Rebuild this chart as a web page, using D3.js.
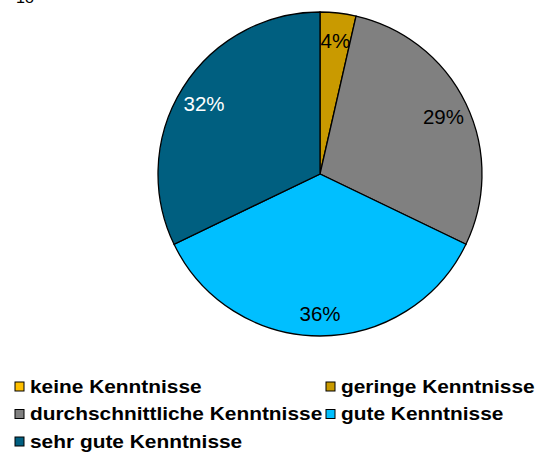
<!DOCTYPE html>
<html>
<head>
<meta charset="utf-8">
<script src="https://cdn.jsdelivr.net/npm/d3@7"></script>
<style>
  body { margin: 0; background: #fff; }
  svg { display: block; font-family: "Liberation Sans", Arial, sans-serif; }
</style>
</head>
<body>
<div id="chart-area"></div>
<script>
// data
const categories = ["keine Kenntnisse", "geringe Kenntnisse", "durchschnittliche Kenntnisse", "gute Kenntnisse", "sehr gute Kenntnisse"];
const counts = [0, 1, 8, 10, 9];
const colors = ["#FFC000", "#C99A00", "#808080", "#00BFFF", "#005F80"];
const labelColors = ["#000", "#000", "#000", "#000", "#fff"];

const width = 535, height = 455;
const cx = 320, cy = 174, radius = 162, labelRadius = 137;

let svg = d3.select("#chart-area").append("svg")
            .attr("width", width)
            .attr("height", height);

// cut-off heading at the top
svg.append("text")
   .attr("x", 16).attr("y", 3)
   .attr("font-size", "16px")
   .text("18");

const total = d3.sum(counts);
const pie = d3.pie().sort(null).value(d => d);
const arcs = pie(counts);
const arc = d3.arc().innerRadius(0).outerRadius(radius);
const labelArc = d3.arc().innerRadius(labelRadius).outerRadius(labelRadius);

let g = svg.append("g")
           .attr("transform", `translate(${cx},${cy})`);

g.selectAll("path")
 .data(arcs.filter(d => d.data > 0))
 .enter().append("path")
 .attr("d", arc)
 .attr("fill", d => colors[d.index])
 .attr("stroke", "#000")
 .attr("stroke-width", 1.3);

g.selectAll("text")
 .data(arcs.filter(d => d.data > 0))
 .enter().append("text")
 .attr("transform", d => `translate(${labelArc.centroid(d)})`)
 .attr("text-anchor", "middle")
 .attr("dy", "0.48em")
 .attr("font-size", "20.5px")
 .attr("fill", d => labelColors[d.index])
 .text(d => Math.round(d.data / total * 100) + "%");

// legend
const legX = [15, 326], legY0 = 382, legDy = 27.5;
let legend = svg.append("g");
categories.forEach(function(c, i) {
  let x = legX[i % 2], y = legY0 + Math.floor(i / 2) * legDy;
  legend.append("rect")
        .attr("x", x).attr("y", y)
        .attr("width", 9).attr("height", 9)
        .attr("fill", colors[i])
        .attr("stroke", "#000")
        .attr("stroke-width", 1);
  legend.append("text")
        .attr("transform", `translate(${x + 15},${y + 10.5}) scale(1.16,1)`)
        .attr("font-size", "18px")
        .attr("font-weight", "bold")
        .text(c);
});
</script>
</body>
</html>
